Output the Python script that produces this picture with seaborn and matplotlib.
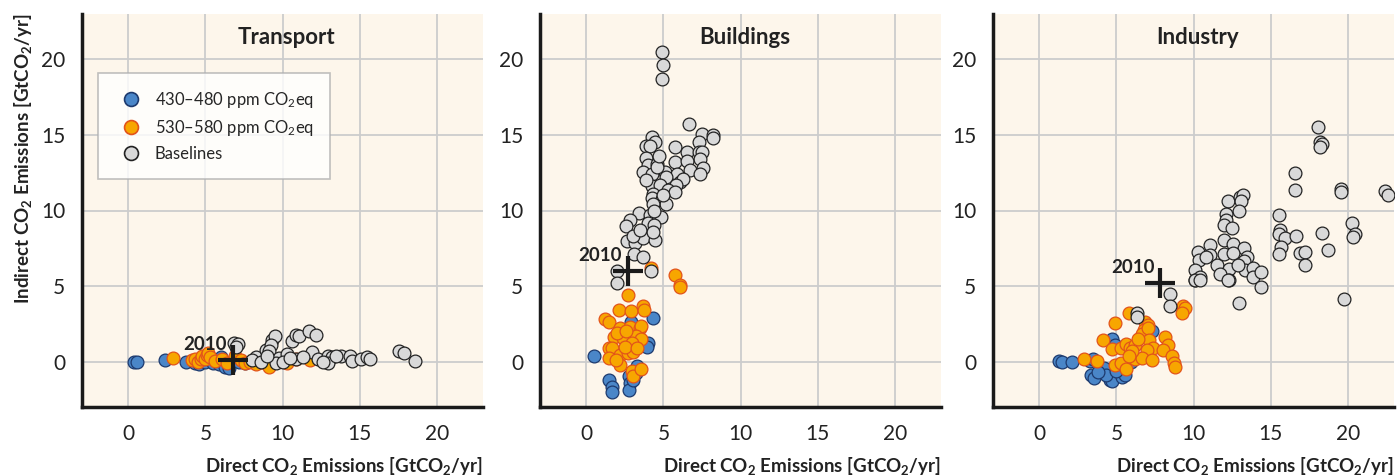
import matplotlib
matplotlib.use('Agg')
import matplotlib.pyplot as plt
import seaborn as sns
import pandas as pd
from matplotlib.lines import Line2D

sectors = ['Transport', 'Buildings', 'Industry']
groups = ['430\u2013480 ppm CO$_2$eq', '530\u2013580 ppm CO$_2$eq', 'Baselines']

# Transport
tr_blue_x = [0.35, 0.55, 2.4, 3.75, 4.3, 4.6, 5.0, 5.5, 5.9, 6.0, 6.3, 6.5, 7.2, 7.6]
tr_blue_y = [0.0, 0.0, 0.1, 0.0, -0.1, -0.15, -0.05, -0.1, -0.15, 0.3, -0.35, -0.45, -0.05, -0.1]
tr_orng_x = [2.87, 4.1, 4.3, 4.5, 4.7, 4.8, 5.0, 5.1, 5.2, 5.3, 5.6, 6.1, 6.4, 6.9, 7.3, 7.6,
             7.9, 8.3, 8.7, 9.1, 9.6, 10.3, 10.9, 11.8]
tr_orng_y = [0.26, 0.1, 0.2, 0.0, 0.15, 0.35, 0.2, 0.45, 0.6, 0.3, 0.05, 0.2, -0.1, 0.4, 0.1, -0.1,
             0.0, -0.15, -0.05, -0.35, 0.05, -0.1, 0.15, 0.13]
tr_base_x = [6.87, 7.1, 7.0, 8.26, 8.9, 9.3, 9.5, 9.25, 9.1, 9.75, 10.3, 10.6, 10.9, 11.1, 11.7,
             12.2, 10.9, 11.9, 12.3, 12.95, 13.2, 12.95, 13.8, 14.4, 14.5, 15.1, 15.5, 15.7,
             17.55, 17.9, 18.6, 8.0, 8.6, 9.6, 10.0, 10.5, 11.3, 9.0, 12.6, 13.5]
tr_base_y = [1.23, 1.2, 1.0, 0.3, 0.8, 1.45, 1.67, 1.1, 0.73, 0.26, 0.5, 1.34, 1.78, 1.72, 2.0,
             1.78, 0.2, 0.65, 0.2, 0.37, 0.33, -0.1, 0.37, 0.37, 0.07, 0.15, 0.3, 0.15,
             0.68, 0.6, 0.04, 0.1, -0.05, -0.1, 0.0, 0.25, 0.3, 0.35, 0.0, 0.35]

# Buildings
bu_blue_x = [4.35, 4.0, 3.95, 0.47, 2.87, 3.27, 3.2, 2.75, 2.85, 1.45, 1.65, 1.7, 2.75, 3.0]
bu_blue_y = [2.9, 1.25, 1.0, 0.37, 2.6, -0.29, -0.73, -0.95, -1.4, -1.2, -1.7, -2.0, -1.9, -1.2]
bu_orng_x = [4.2, 5.73, 6.06, 6.06, 2.68, 2.1, 2.87, 3.7, 3.75, 1.23, 1.5, 2.2, 2.84, 3.5, 3.55,
             1.77, 2.4, 3.25, 3.55, 2.95, 1.45, 1.65, 2.2, 2.7, 3.0, 1.45, 2.2, 2.95, 3.05, 3.55,
             2.5, 2.0, 3.3, 1.9, 2.6]
bu_orng_y = [6.2, 5.72, 5.06, 4.95, 4.38, 3.4, 3.34, 3.67, 3.45, 2.84, 2.6, 2.2, 2.3, 2.2, 2.35,
             1.65, 1.54, 1.7, 1.48, 1.26, 0.92, 0.92, 0.44, 0.6, 0.64, 0.26, -0.24, -0.62, -0.95, -0.46,
             1.0, 1.9, 0.9, 0.1, 2.0]
bu_base_x = [4.89, 4.95, 4.93, 6.64, 7.48, 8.19, 8.19, 4.25, 4.47, 3.9, 4.1, 5.75, 7.3, 6.5, 7.3,
             7.5, 3.85, 7.35, 5.75, 6.5, 4.0, 4.6, 3.7, 4.25, 5.1, 5.86, 6.7, 7.58, 7.35, 5.15,
             6.1, 6.3, 4.25, 4.8, 5.85, 4.35, 5.3, 5.75, 4.25, 4.9, 5.2, 4.35, 3.4, 4.1, 4.85,
             2.85, 2.6, 4.0, 4.4, 2.63, 3.15, 3.7, 4.45, 3.0, 4.35, 3.12, 3.7, 1.98, 2.0, 4.2,
             4.6, 3.9, 4.4, 5.0, 3.5, 4.7]
bu_base_y = [20.46, 19.6, 18.7, 15.75, 15.05, 15.0, 14.8, 14.85, 14.5, 14.3, 14.3, 14.2, 14.5,
             13.85, 13.85, 13.85, 13.45, 13.4, 13.2, 13.3, 13.0, 13.1, 12.58, 12.43, 12.58, 12.43,
             12.7, 12.8, 12.43, 12.2, 11.9, 12.1, 11.6, 11.7, 11.7, 11.1, 11.35, 11.2, 10.8,
             10.75, 10.45, 10.45, 9.83, 9.73, 9.6, 9.35, 9.0, 9.2, 9.05, 7.96, 7.85, 8.18, 8.07,
             8.3, 8.6, 7.13, 6.9, 5.98, 5.2, 5.98, 12.9, 12.0, 10.0, 11.0, 8.7, 13.6]

# Industry
in_blue_x = [1.26, 1.47, 2.1, 3.27, 3.5, 4.7, 4.9, 3.35, 3.52, 4.17, 4.6, 4.72, 5.35, 5.56, 4.35,
             7.3, 5.97, 3.8, 5.0]
in_blue_y = [0.05, -0.05, -0.05, 0.05, 0.2, 1.5, 1.1, -0.88, -1.1, -0.45, -1.2, -1.3, -1.0, -0.9,
             -0.88, 2.0, 0.0, -0.7, -0.6]
in_orng_x = [5.79, 9.32, 9.43, 9.25, 4.88, 6.87, 7.06, 6.78, 6.65, 7.05, 4.13, 4.71, 5.3, 5.6,
             5.9, 6.2, 7.1, 7.4, 7.0, 8.13, 8.33, 8.0, 8.6, 8.73, 8.8, 2.92, 3.74, 4.9, 5.3, 5.6,
             6.2, 6.65, 7.3, 6.0, 6.4, 5.8]
in_orng_y = [3.23, 3.67, 3.53, 3.2, 2.57, 2.6, 2.45, 2.1, 1.82, 2.2, 1.43, 0.84, 0.88, 1.2,
             0.88, 1.1, 1.43, 0.88, 0.77, 1.65, 1.1, 0.77, 0.37, -0.1, -0.35, 0.2, 0.05, -0.2,
             -0.1, -0.5, 0.2, 0.25, 0.1, 0.7, 1.5, 0.4]
in_base_x = [18.05, 18.18, 18.3, 18.18, 16.6, 16.6, 19.57, 19.57, 22.44, 22.6, 12.24, 13.0,
             13.18, 13.05, 12.97, 12.13, 12.08, 11.97, 12.47, 15.52, 15.58, 15.52, 15.95, 16.66,
             15.65, 15.52, 18.34, 18.72, 20.28, 20.5, 20.35, 16.93, 17.25, 17.25, 11.05, 11.95,
             12.55, 13.3, 13.5, 10.27, 10.33, 10.12, 10.12, 10.44, 11.05, 11.52, 12.28, 11.7,
             12.28, 11.97, 12.55, 13.28, 13.35, 13.85, 13.85, 14.4, 14.36, 8.5, 8.5, 6.33, 6.33,
             12.93, 19.73, 10.1, 10.45, 12.25, 10.8, 12.9]
in_base_y = [15.5, 14.52, 14.4, 14.2, 12.47, 11.33, 11.45, 11.23, 11.29, 11.0, 10.62, 10.88,
             11.0, 10.66, 10.0, 9.79, 9.35, 9.06, 8.86, 9.73, 8.73, 8.46, 8.2, 8.3, 7.6, 7.15,
             8.5, 7.4, 9.18, 8.47, 8.24, 7.2, 7.25, 6.38, 7.75, 8.03, 7.78, 7.5, 6.95, 7.26,
             6.72, 6.06, 5.4, 5.62, 7.04, 6.38, 6.16, 5.83, 5.43, 7.1, 7.2, 6.67, 6.06, 6.17,
             5.62, 5.9, 4.95, 4.45, 3.67, 3.19, 2.97, 3.9, 4.12, 5.38, 5.38, 5.38, 6.9, 6.4]

ref_2010_x = [6.76, 2.69, 7.85]
ref_2010_y = [0.12, 6.03, 5.22]

panels = [
    [(tr_blue_x, tr_blue_y), (tr_orng_x, tr_orng_y), (tr_base_x, tr_base_y)],
    [(bu_blue_x, bu_blue_y), (bu_orng_x, bu_orng_y), (bu_base_x, bu_base_y)],
    [(in_blue_x, in_blue_y), (in_orng_x, in_orng_y), (in_base_x, in_base_y)],
]

fills = ['#4a86c8', '#f7a600', '#d9d9d9']
edges = ['#1d3a6e', '#e2531a', '#222222']
bg = '#fdf6eb'

sns.set_style('white')
plt.rcParams['font.family'] = ['Lato', 'DejaVu Sans']
plt.rcParams['mathtext.fontset'] = 'custom'
plt.rcParams['mathtext.rm'] = 'Lato'
plt.rcParams['mathtext.it'] = 'Lato'
plt.rcParams['mathtext.bf'] = 'Lato:bold'

fig = plt.figure(figsize=(13.98, 4.76), dpi=100)
lefts = [82, 540, 993]
W, H = 1398.0, 476.0

for i, name in enumerate(sectors):
    ax = fig.add_axes([lefts[i] / W, 69 / H, 401 / W, 393 / H])
    ax.set_facecolor(bg)
    for g, (xs, ys) in enumerate(panels[i]):
        df = pd.DataFrame({'x': xs, 'y': ys})
        sns.scatterplot(data=df, x='x', y='y', ax=ax, color=fills[g], edgecolor=edges[g],
                        linewidth=0.9, s=85, zorder=3 + g, legend=False)
    ax.plot(ref_2010_x[i], ref_2010_y[i], marker='+', color='#1a1a1a', markersize=22,
            markeredgewidth=3, zorder=10)
    ax.annotate('2010', (ref_2010_x[i], ref_2010_y[i]), xytext=(-20, 11),
                textcoords='offset points', ha='center', va='center', fontsize=13.5,
                fontweight='bold', color='#222222', zorder=11)
    ax.set_xlim(-3, 23)
    ax.set_ylim(-3, 23)
    ax.set_xticks([0, 5, 10, 15, 20])
    ax.set_yticks([0, 5, 10, 15, 20])
    ax.grid(True, color='#cccccc', linewidth=1.3)
    ax.set_axisbelow(True)
    for s in ['top', 'right']:
        ax.spines[s].set_visible(False)
    for s in ['left', 'bottom']:
        ax.spines[s].set_color('#1a1a1a')
        ax.spines[s].set_linewidth(2.5)
    ax.tick_params(length=0, labelsize=15, pad=12, colors='#222222')
    ax.text(0.51, 0.94, name, transform=ax.transAxes, ha='center', va='center',
            fontsize=16, fontweight='bold', color='#222222')
    ax.set_xlabel(r'Direct CO$_\mathbf{2}$ Emissions [GtCO$_\mathbf{2}$/yr]', loc='right',
                  fontsize=13.5, fontweight='bold', color='#222222', labelpad=8)
    if i == 0:
        ax.set_ylabel(r'Indirect CO$_\mathbf{2}$ Emissions [GtCO$_\mathbf{2}$/yr]', loc='top',
                      fontsize=13.5, fontweight='bold', color='#222222', labelpad=5)
        handles = [Line2D([], [], marker='o', linestyle='', markersize=10,
                          markerfacecolor=fills[g], markeredgecolor=edges[g],
                          markeredgewidth=1.2) for g in range(3)]
        leg = ax.legend(handles, groups, loc='upper left', bbox_to_anchor=(0.04, 0.85),
                        fontsize=12, frameon=True, fancybox=False, borderpad=1.0,
                        labelspacing=0.5, handletextpad=0.4, borderaxespad=0)
        leg.get_frame().set_edgecolor('#b0b0b0')
        leg.get_frame().set_facecolor('white')
        leg.get_frame().set_linewidth(1.2)
        leg.set_zorder(20)
    else:
        ax.set_ylabel('')

fig.savefig('out.png', dpi=100)
